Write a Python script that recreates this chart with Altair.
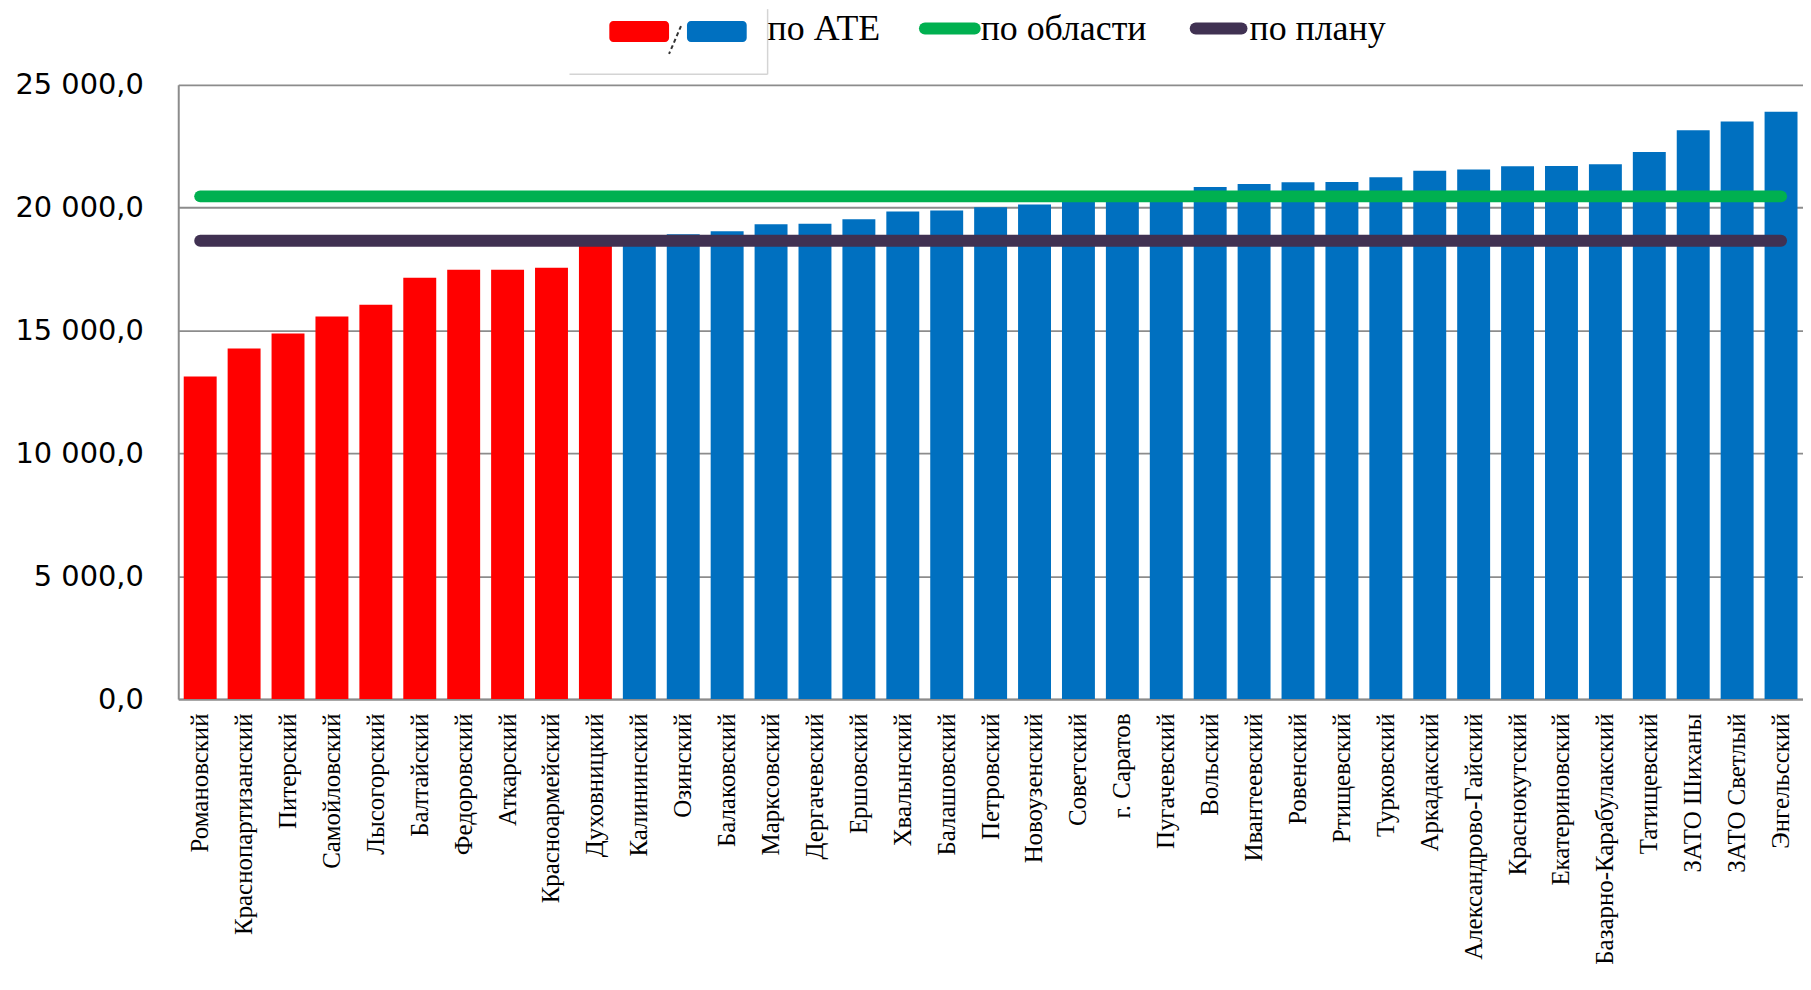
import altair as alt
import pandas as pd

districts = ["Романовский", "Краснопартизанский", "Питерский", "Самойловский", "Лысогорский",
             "Балтайский", "Федоровский", "Аткарский", "Красноармейский", "Духовницкий",
             "Калининский", "Озинский", "Балаковский", "Марксовский", "Дергачевский",
             "Ершовский", "Хвалынский", "Балашовский", "Петровский", "Новоузенский",
             "Советский", "г. Саратов", "Пугачевский", "Вольский", "Ивантеевский",
             "Ровенский", "Ртищевский", "Турковский", "Аркадакский", "Александрово-Гайский",
             "Краснокутский", "Екатериновский", "Базарно-Карабулакский", "Татищевский",
             "ЗАТО Шиханы", "ЗАТО Светлый", "Энгельсский"]
values = [13130, 14270, 14880, 15570, 16050,
          17150, 17470, 17470, 17550, 18550,
          18750, 18920, 19040, 19320, 19350,
          19530, 19840, 19880, 20020, 20130,
          20350, 20450, 20600, 20840, 20960,
          21030, 21040, 21240, 21500, 21550,
          21690, 21700, 21770, 22270, 23150,
          23510, 23900]
oblast_value = 20460
plan_value = 18650
y_ticks = [0, 5000, 10000, 15000, 20000, 25000]

series_names = ["по области", "по плану"]
series_colors = ["#00B050", "#403152"]

bars_df = pd.DataFrame({
    "district": districts,
    "value": values,
    "group": ["below" if v < plan_value else "above" for v in values],
})

lines_df = pd.DataFrame({
    "district": [districts[0], districts[-1], districts[0], districts[-1]],
    "value": [oblast_value, oblast_value, plan_value, plan_value],
    "series": [series_names[0]] * 2 + [series_names[1]] * 2,
})

x_enc = alt.X(
    "district:N", sort=districts, title=None,
    scale=alt.Scale(paddingInner=0.25, paddingOuter=0.125),
    axis=alt.Axis(labelAngle=-90, labelFont="Liberation Serif", labelFontSize=25,
                  labelColor="black", labelPadding=14, ticks=False, labelLimit=400,
                  labelOverlap=False, domainColor="#8c8c8c", domainWidth=2, grid=False),
)
y_enc = alt.Y(
    "value:Q", title=None, scale=alt.Scale(domain=[0, 25000], nice=False),
    axis=alt.Axis(values=y_ticks, labelFont="DejaVu Sans", labelFontSize=29,
                  labelColor="black", labelPadding=35, ticks=False,
                  domainColor="#8c8c8c", domainWidth=2, grid=True,
                  gridColor="#8c8c8c", gridWidth=1.8,
                  labelExpr="replace(replace(format(datum.value, ',.1f'), ',', ' '), '.', ',')"),
)

bars = alt.Chart(bars_df).mark_bar().encode(
    x=x_enc, y=y_enc,
    color=alt.Color("group:N", scale=alt.Scale(domain=["below", "above"],
                                               range=["#FF0000", "#0070C0"]), legend=None),
)

lines = alt.Chart(lines_df).mark_line(strokeWidth=12, strokeCap="round").encode(
    x=alt.X("district:N", sort=districts),
    y=alt.Y("value:Q"),
    color=alt.Color("series:N", scale=alt.Scale(domain=series_names, range=series_colors),
                    legend=None),
    detail="series:N",
)

one = pd.DataFrame({"a": [0]})

leg_box_v = alt.Chart(one).mark_rule(color="#d4d4d4", strokeWidth=1.5).encode(
    x=alt.value(592), y=alt.value(-76), y2=alt.value(-10.5))
leg_box_h = alt.Chart(one).mark_rule(color="#d4d4d4", strokeWidth=1.5).encode(
    x=alt.value(393), x2=alt.value(592), y=alt.value(-10.5))
leg_red = alt.Chart(one).mark_rect(color="#FF0000", cornerRadius=4).encode(
    x=alt.value(433), x2=alt.value(493), y=alt.value(-64), y2=alt.value(-43))
leg_blue = alt.Chart(one).mark_rect(color="#0070C0", cornerRadius=4).encode(
    x=alt.value(511), x2=alt.value(571), y=alt.value(-64), y2=alt.value(-43))
leg_slash = alt.Chart(one).mark_rule(color="#333333", strokeWidth=2, strokeDash=[4, 3]).encode(
    x=alt.value(505), y=alt.value(-59), x2=alt.value(493), y2=alt.value(-31))
leg_green = alt.Chart(one).mark_rule(color=series_colors[0], strokeWidth=12, strokeCap="round").encode(
    x=alt.value(750), x2=alt.value(800), y=alt.value(-56.5))
leg_purple = alt.Chart(one).mark_rule(color=series_colors[1], strokeWidth=12, strokeCap="round").encode(
    x=alt.value(1022), x2=alt.value(1068), y=alt.value(-56.5))

def leg_text(txt, xpos):
    return alt.Chart(one).mark_text(text=txt, font="Liberation Serif", fontSize=36,
                                    color="black", align="left", baseline="alphabetic").encode(
        x=alt.value(xpos), y=alt.value(-45))

chart = alt.layer(
    bars, lines,
    leg_box_v, leg_box_h, leg_red, leg_blue, leg_slash, leg_green, leg_purple,
    leg_text("по АТЕ", 592), leg_text("по области", 806), leg_text("по плану", 1076),
).resolve_scale(
    color="independent"
).properties(
    width=1632, height=617,
    autosize=alt.AutoSizeParams(type="none"),
    padding={"left": 171, "top": 75, "right": 0, "bottom": 274},
    background="white",
).configure_view(strokeWidth=0)

chart.save("out.html", embed_options={"renderer": "svg", "actions": False})
